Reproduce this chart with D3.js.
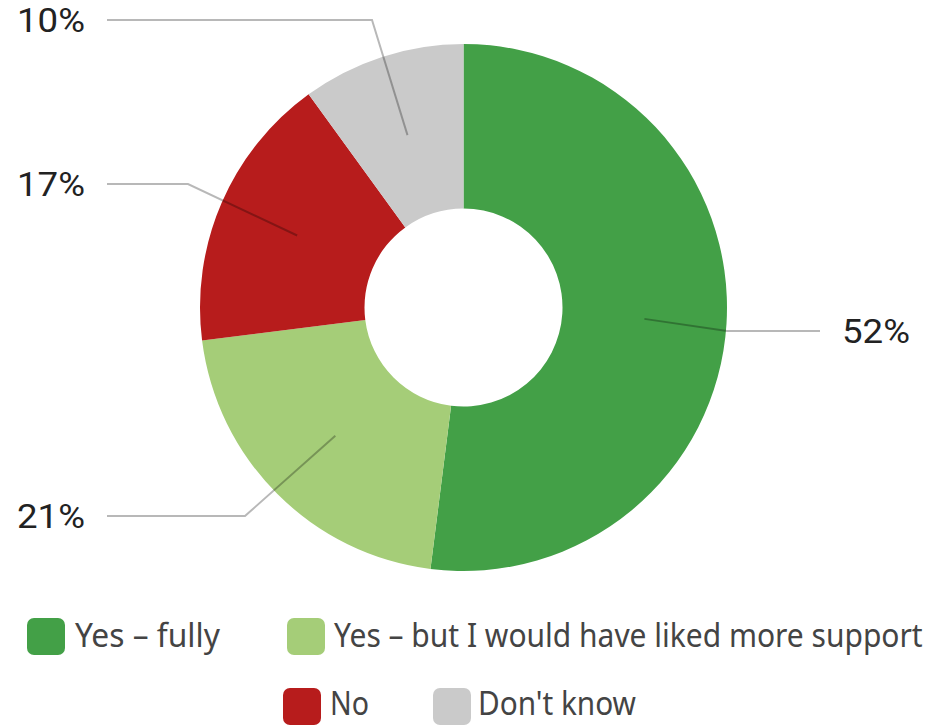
<!DOCTYPE html>
<html>
<head>
<meta charset="utf-8">
<script src="https://cdn.jsdelivr.net/npm/d3@7"></script>
<style>
  html, body { margin: 0; padding: 0; background: #fff; }
  svg { display: block; }
</style>
</head>
<body>
<svg id="chart" width="931" height="725"></svg>
<script>
// Survey answers and their shares (percent)
const categories = ["Yes – fully", "Yes – but I would have liked more support", "No", "Don't know"];
const values = [52, 21, 17, 10];
const colors = ["#43a047", "#a5cd78", "#b71c1c", "#cacaca"];
const valueLabels = ["52%", "21%", "17%", "10%"];

// Label placement for each slice: side, label row, elbow x of the leader line
const labelLayout = [
  { side: "right", y: 331, elbowX: 727 },
  { side: "left",  y: 516, elbowX: 245 },
  { side: "left",  y: 184, elbowX: 188 },
  { side: "left",  y: 20,  elbowX: 372 }
];

const svg = d3.select("#chart");
const cx = 463.5, cy = 307.5;
const outerR = 263.5, innerR = 99;
const midR = (outerR + innerR) / 2;

// Squeeze a text horizontally so it spans the given width, anchored at its x
function fitWidth(sel, x, width) {
  const natural = sel.node().getComputedTextLength();
  const k = Math.min(1.2, width / natural);
  sel.attr("x", 0).attr("transform", `translate(${x},0) scale(${k},1)`);
  return sel;
}

const pie = d3.pie().sort(null).value(d => d.value);
const arcs = pie(categories.map((c, i) => ({ name: c, value: values[i], i })));
const arc = d3.arc().innerRadius(innerR).outerRadius(outerR);

const g = svg.append("g").attr("transform", `translate(${cx},${cy})`);

g.selectAll("path.slice")
  .data(arcs)
  .join("path")
  .attr("class", "slice")
  .attr("d", arc)
  .attr("fill", d => colors[d.data.i]);

// Leader lines from the middle of each ring segment out to its label
const pointAt = (angle, r) => [cx + r * Math.sin(angle), cy - r * Math.cos(angle)];
const lineGen = d3.line();
const labels = svg.append("g");

arcs.forEach(d => {
  const L = labelLayout[d.data.i];
  const mid = (d.startAngle + d.endAngle) / 2;
  const p0 = pointAt(mid, midR);
  const elbow = [L.elbowX, L.y];
  const end = L.side === "right" ? [820, L.y] : [107, L.y];
  labels.append("path")
    .attr("d", lineGen([p0, elbow, end]))
    .attr("fill", "none")
    .attr("stroke", "#000")
    .attr("stroke-opacity", 0.28)
    .attr("stroke-width", 2);
  const t = labels.append("text")
    .attr("y", L.y + 12)
    .attr("font-family", "Roboto, sans-serif")
    .attr("font-size", 34)
    .attr("fill", "#222")
    .text(valueLabels[d.data.i]);
  fitWidth(t, L.side === "right" ? 842 : 17, 68);
});

// Legend
const legendItems = [
  { i: 0, x: 27,  y: 618, textX: 75,  textW: 145, base: 647 },
  { i: 1, x: 287, y: 618, textX: 334, textW: 589, base: 647 },
  { i: 2, x: 283, y: 688, textX: 330, textW: 39,  base: 715 },
  { i: 3, x: 433, y: 688, textX: 478, textW: 158, base: 715 }
];

const legend = svg.append("g");
legendItems.forEach(it => {
  legend.append("rect")
    .attr("x", it.x).attr("y", it.y)
    .attr("width", 38).attr("height", 37)
    .attr("rx", 7)
    .attr("fill", colors[it.i]);
  const t = legend.append("text")
    .attr("y", it.base)
    .attr("font-family", "'Noto Sans', sans-serif")
    .attr("font-size", 33)
    .attr("fill", "#444")
    .text(categories[it.i]);
  fitWidth(t, it.textX, it.textW);
});
</script>
</body>
</html>
